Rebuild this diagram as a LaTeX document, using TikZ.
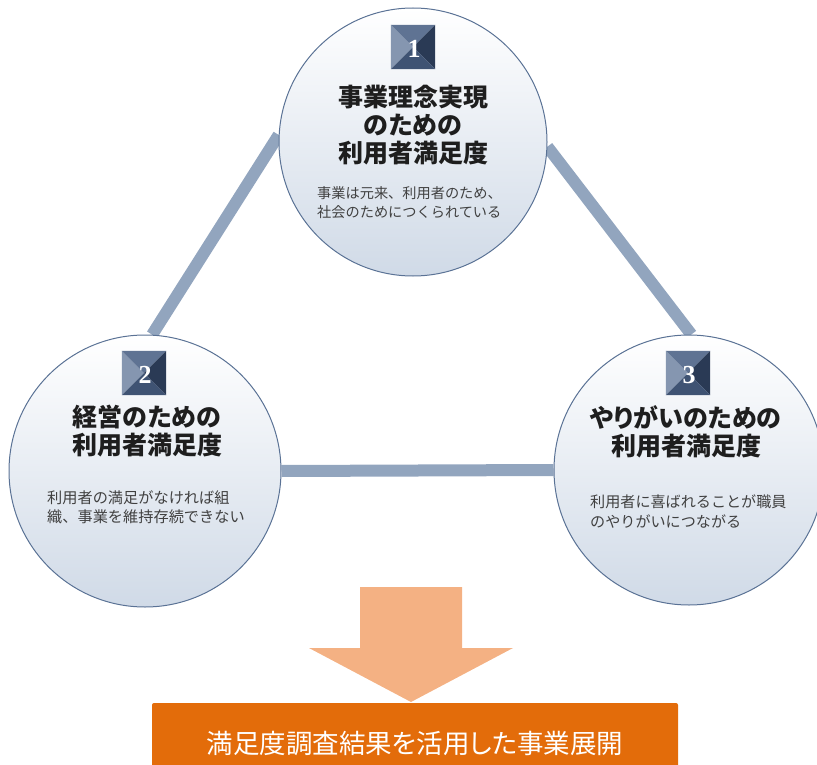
\documentclass[tikz,border=0pt]{standalone}
\usepackage{fontspec}
\newfontfamily\jp[RawFeature={+palt}]{Noto Sans CJK JP}
\newfontfamily\jpfull{Noto Sans CJK JP}
\newfontfamily\numfont{Liberation Serif}
\usetikzlibrary{backgrounds}
\definecolor{ringcol}{HTML}{5A7295}
\definecolor{bubblebot}{HTML}{D0DAE7}
\definecolor{linkcol}{HTML}{92A5BE}
\definecolor{titlecol}{HTML}{1E1E1E}
\definecolor{notecol}{HTML}{404040}
\definecolor{bleft}{HTML}{8596B0}
\definecolor{btop}{HTML}{5F7393}
\definecolor{bright}{HTML}{2A3A55}
\definecolor{bbottom}{HTML}{3F5373}
\definecolor{arrowcol}{HTML}{F4B183}
\definecolor{boxcol}{HTML}{E36C0A}
\newcommand\badgefill[1]{%
  \fill[bleft] (#1.north west) -- (#1.center) -- (#1.south west) -- cycle;
  \fill[btop] (#1.north west) -- (#1.center) -- (#1.north east) -- cycle;
  \fill[bright] (#1.north east) -- (#1.center) -- (#1.south east) -- cycle;
  \fill[bbottom] (#1.south west) -- (#1.center) -- (#1.south east) -- cycle;}
\begin{document}
\begin{tikzpicture}[x=1pt,y=-1pt,
  bubble/.style={circle, draw=ringcol, line width=1pt, inner sep=0pt, top color=white, bottom color=bubblebot},
  link/.style={draw=linkcol, line width=12pt},
  title/.style={font=\jp\bfseries\fontsize{25}{28}\selectfont, text=titlecol, align=center, inner sep=0pt},
  note/.style={text=notecol, align=left, anchor=west, inner sep=0pt},
  badge/.style={minimum width=44pt, minimum height=44pt, inner sep=0pt},
  num/.style={font=\numfont\bfseries\fontsize{26}{26}\selectfont, text=white, inner sep=0pt},
  resbox/.style={fill=boxcol, rounded corners=2pt, minimum width=526pt, minimum height=80pt, inner sep=0pt, text=white, font=\jp\fontsize{26.5}{28}\selectfont}
]
\useasboundingbox (0,0) rectangle (817,765);

% circles
\node[bubble, minimum size=268pt] (c1) at (413,142) {};
\node[bubble, minimum size=272pt] (c2) at (145,471) {};
\node[bubble, minimum size=270pt] (c3) at (689,470) {};

% connectors
\begin{scope}[on background layer]
  \draw[link] (c1.177) -- (c2.87.5);
  \draw[link] (c1.-2) -- (c3.89);
  \draw[link] (c2.east) -- (c3.west);
\end{scope}

% badges
\node[badge] (b1) at (413,47) {};
\badgefill{b1}
\node[num] (n1) at ([shift={(1,2)}]b1.center) {1};
\node[badge] (b2) at (144,373) {};
\badgefill{b2}
\node[num] (n2) at ([shift={(1,2)}]b2.center) {2};
\node[badge] (b3) at (688,373) {};
\badgefill{b3}
\node[num] (n3) at ([shift={(1,2)}]b3.center) {3};

% titles
\node[title] (t1) at (413,125) {事業理念実現\\のための\\利用者満足度};
\node[title] (t2) at (147,431.5) {経営のための\\利用者満足度};
\node[title] (t3) at (686,431.5) {やりがいのための\\利用者満足度};

% notes
\node[note, font=\jpfull\fontsize{14.2}{19}\selectfont] (s1) at (317,202.5) {事業は元来、利用者のため、\\社会のためにつくられている};
\node[note, font=\jpfull\fontsize{15.2}{19}\selectfont] (s2) at (47,507) {利用者の満足がなければ組\\織、事業を維持存続できない};
\node[note, font=\jpfull\fontsize{15.1}{20}\selectfont] (s3) at (590,512) {利用者に喜ばれることが職員\\のやりがいにつながる};

% arrow
\fill[arrowcol] (360,587) -- (462,587) -- (462,648) -- (513,648) -- (411,702) -- (309,648) -- (360,648) -- cycle;

% result box
\node[resbox] (res) at (415,743) {満足度調査結果を活用した事業展開};
\end{tikzpicture}
\end{document}
